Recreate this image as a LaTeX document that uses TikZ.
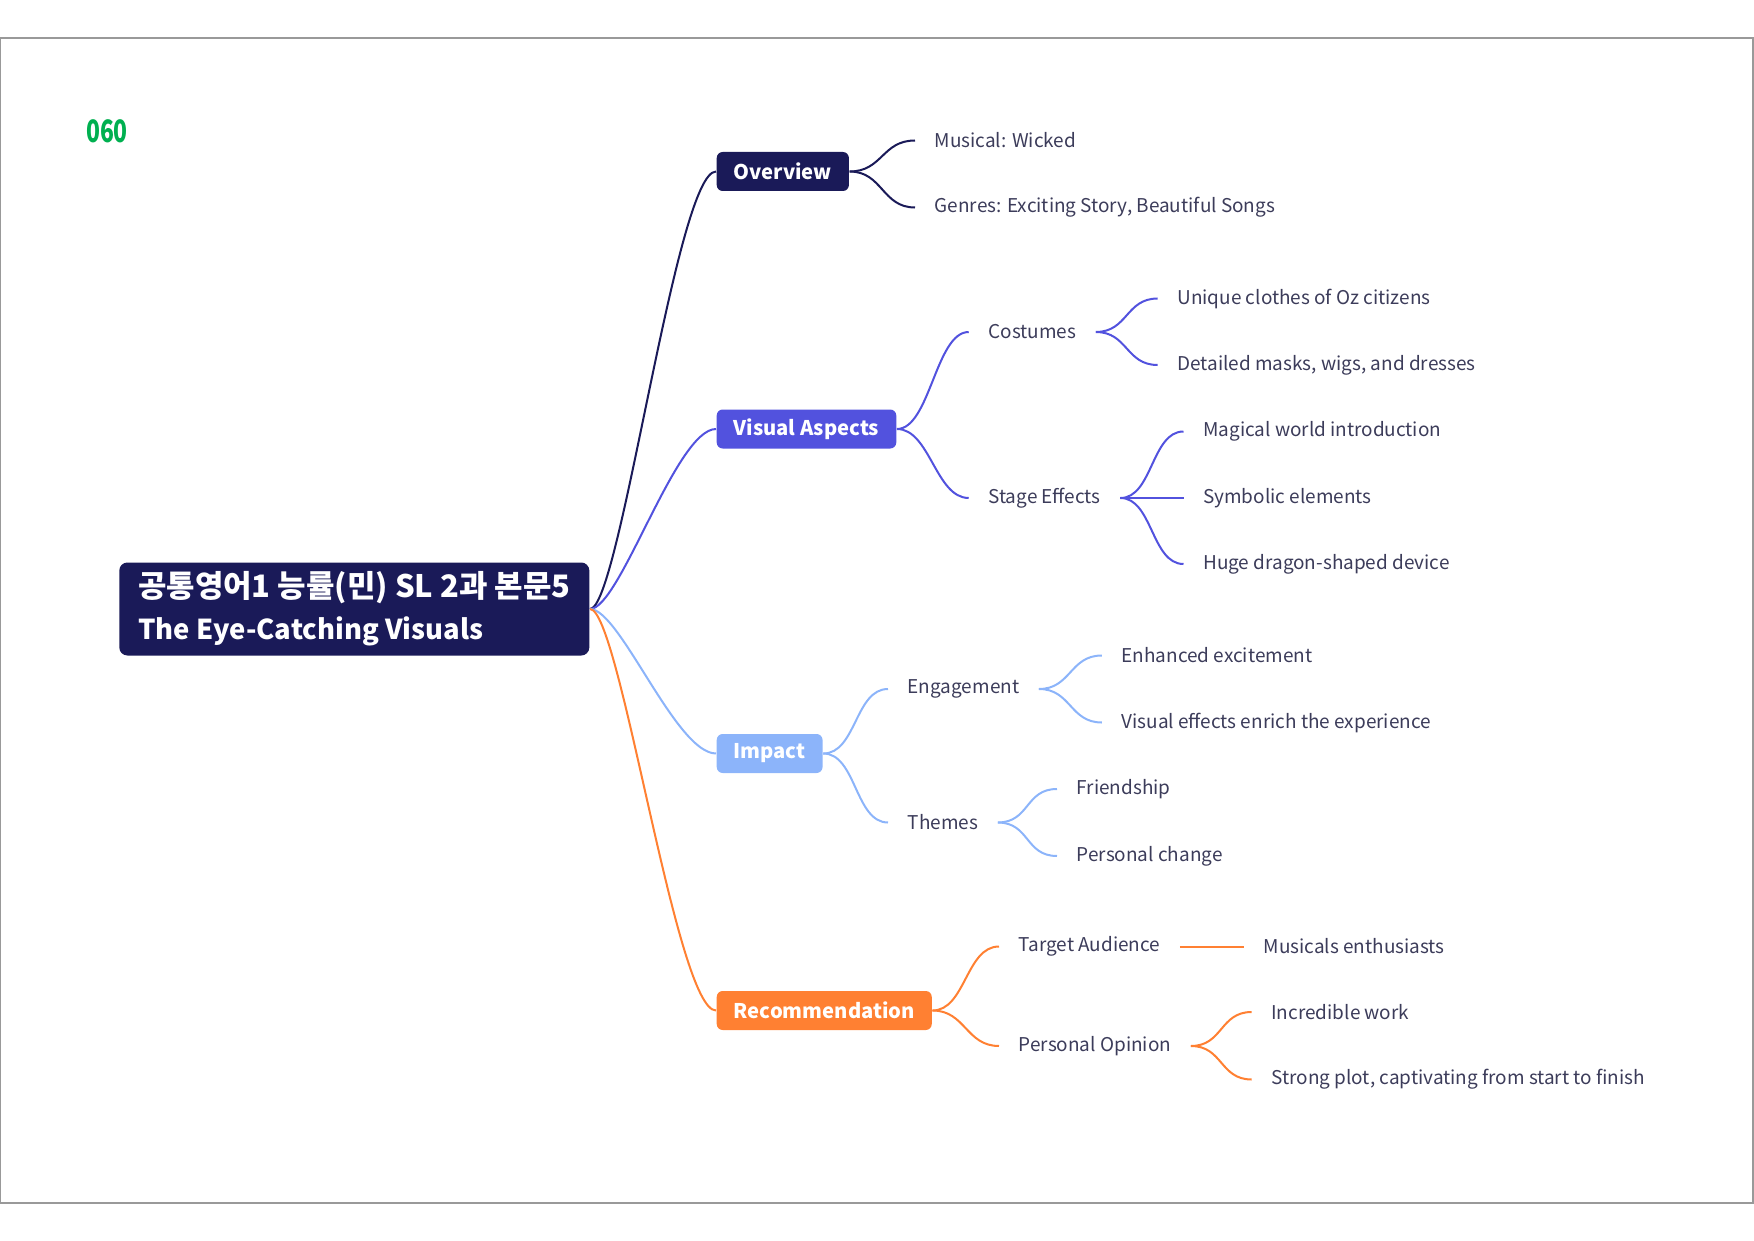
\documentclass[tikz,border=0pt]{standalone}
\usepackage{fontspec}
\usepackage{graphicx}
\setmainfont{Noto Sans CJK KR}
\definecolor{ovcol}{RGB}{26,26,88}
\definecolor{vacol}{RGB}{82,82,222}
\definecolor{imcol}{RGB}{140,180,250}
\definecolor{recol}{RGB}{255,128,50}
\definecolor{leafcol}{RGB}{60,60,90}
\definecolor{tagcol}{RGB}{0,176,80}
\begin{document}
\begin{tikzpicture}[
  mainbox/.style={rounded corners=0.06cm, text=white, font=\fontsize{5.75}{7}\selectfont\bfseries,
    inner xsep=0.17cm, inner ysep=0pt, minimum height=0.39cm, anchor=west},
  leaf/.style={text=leafcol, font=\fontsize{5.4}{6.5}\selectfont, inner xsep=0.19cm, anchor=west},
  link/.style={line width=0.57pt}
]
  \useasboundingbox (0,0) rectangle (17.54,12.40);
  % Frame
  \draw[gray!80, line width=0.4pt] (0.005,0.37) rectangle (17.53,12.02);
  \node[text=tagcol, font=\fontsize{8.8}{9}\selectfont\bfseries] (tag) at (1.07,11.09) {\scalebox{0.74}[1]{060}};
  % Root
  \node[fill=ovcol, rounded corners=0.08cm, text=white, font=\bfseries, align=left,
    inner xsep=0.18cm, inner ysep=0.05cm, minimum width=4.70cm, minimum height=0.93cm, anchor=west]
    (root) at (1.186,6.31) {\fontsize{8.8}{14}\selectfont 공통영어1 능률(민) SL 2과 본문5\\
      \fontsize{7.8}{14}\selectfont The Eye-Catching Visuals};
  % Main branches
  \node[mainbox, fill=ovcol] (ov) at (7.16,10.685) {Overview};
  \node[mainbox, fill=vacol] (va) at (7.16,8.11) {Visual Aspects};
  \node[mainbox, fill=imcol] (im) at (7.16,4.865) {Impact};
  \node[mainbox, fill=recol] (re) at (7.16,2.295) {Recommendation};
  \draw[link, ovcol] (root.east) .. controls +(0.3,0) and +(-0.4,0) .. (ov.west);
  \draw[link, vacol] (root.east) .. controls +(0.3,0) and +(-0.4,0) .. (va.west);
  \draw[link, imcol] (root.east) .. controls +(0.3,0) and +(-0.4,0) .. (im.west);
  \draw[link, recol] (root.east) .. controls +(0.3,0) and +(-0.4,0) .. (re.west);
  % Overview
  \node[leaf] (mus) at (9.15,10.995) {Musical: Wicked};
  \node[leaf] (gen) at (9.15,10.325) {Genres: Exciting Story, Beautiful Songs};
  \draw[link, ovcol] (ov.east) .. controls +(0.33,0) and +(-0.33,0) .. (mus.west);
  \draw[link, ovcol] (ov.east) .. controls +(0.33,0) and +(-0.33,0) .. (gen.west);
  % Visual aspects
  \node[leaf] (cos) at (9.687,9.08) {Costumes};
  \node[leaf] (stg) at (9.687,7.42) {Stage Effects};
  \node[leaf] (uni) at (11.577,9.415) {Unique clothes of Oz citizens};
  \node[leaf] (det) at (11.577,8.75) {Detailed masks, wigs, and dresses};
  \node[leaf] (mag) at (11.835,8.085) {Magical world introduction};
  \node[leaf] (sym) at (11.835,7.42) {Symbolic elements};
  \node[leaf] (hug) at (11.835,6.76) {Huge dragon-shaped device};
  \draw[link, vacol] (va.east) .. controls +(0.33,0) and +(-0.33,0) .. (cos.west);
  \draw[link, vacol] (va.east) .. controls +(0.33,0) and +(-0.33,0) .. (stg.west);
  \draw[link, vacol] (cos.east) .. controls +(0.32,0) and +(-0.32,0) .. (uni.west);
  \draw[link, vacol] (cos.east) .. controls +(0.32,0) and +(-0.32,0) .. (det.west);
  \draw[link, vacol] (stg.east) .. controls +(0.32,0) and +(-0.32,0) .. (mag.west);
  \draw[link, vacol] (stg.east) -- (sym.west);
  \draw[link, vacol] (stg.east) .. controls +(0.32,0) and +(-0.32,0) .. (hug.west);
  % Impact
  \node[leaf] (eng) at (8.88,5.51) {Engagement};
  \node[leaf] (thm) at (8.88,4.175) {Themes};
  \node[leaf] (enh) at (11.018,5.845) {Enhanced excitement};
  \node[leaf] (vis) at (11.018,5.175) {Visual effects enrich the experience};
  \node[leaf] (fri) at (10.57,4.51) {Friendship};
  \node[leaf] (per) at (10.57,3.84) {Personal change};
  \draw[link, imcol] (im.east) .. controls +(0.33,0) and +(-0.33,0) .. (eng.west);
  \draw[link, imcol] (im.east) .. controls +(0.33,0) and +(-0.33,0) .. (thm.west);
  \draw[link, imcol] (eng.east) .. controls +(0.32,0) and +(-0.32,0) .. (enh.west);
  \draw[link, imcol] (eng.east) .. controls +(0.32,0) and +(-0.32,0) .. (vis.west);
  \draw[link, imcol] (thm.east) .. controls +(0.32,0) and +(-0.32,0) .. (fri.west);
  \draw[link, imcol] (thm.east) .. controls +(0.32,0) and +(-0.32,0) .. (per.west);
  % Recommendation
  \node[leaf] (tgt) at (9.99,2.935) {Target Audience};
  \node[leaf] (opn) at (9.99,1.94) {Personal Opinion};
  \node[leaf] (fan) at (12.44,2.935) {Musicals enthusiasts};
  \node[leaf] (inc) at (12.517,2.28) {Incredible work};
  \node[leaf] (plt) at (12.517,1.605) {Strong plot, captivating from start to finish};
  \draw[link, recol] (re.east) .. controls +(0.33,0) and +(-0.33,0) .. (tgt.west);
  \draw[link, recol] (re.east) .. controls +(0.33,0) and +(-0.33,0) .. (opn.west);
  \draw[link, recol] (tgt.east) -- (fan.west);
  \draw[link, recol] (opn.east) .. controls +(0.32,0) and +(-0.32,0) .. (inc.west);
  \draw[link, recol] (opn.east) .. controls +(0.32,0) and +(-0.32,0) .. (plt.west);
\end{tikzpicture}
\end{document}
